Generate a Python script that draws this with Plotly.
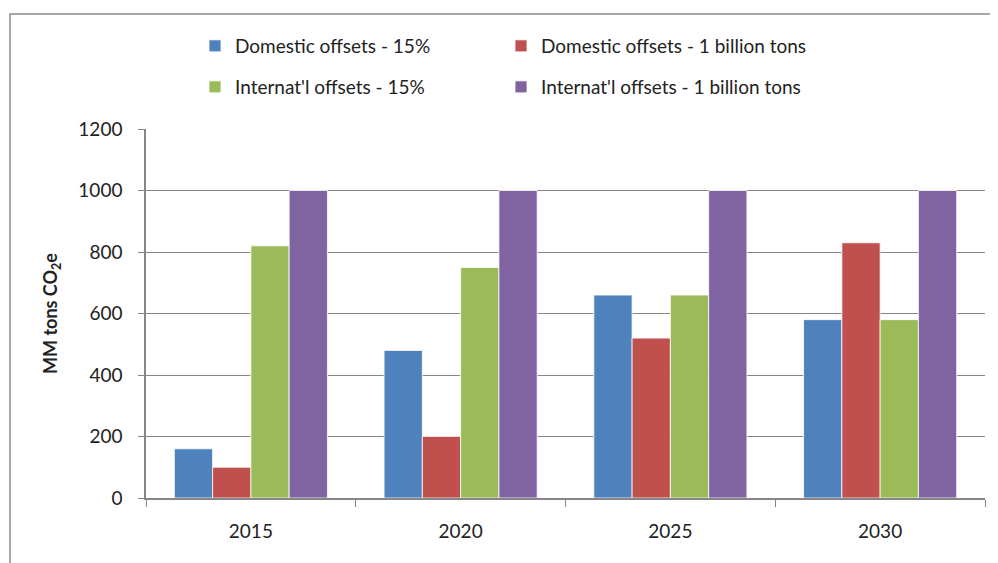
import plotly.graph_objects as go

years = ["2015", "2020", "2025", "2030"]
dom_15 = [160, 480, 660, 580]
dom_1b = [100, 200, 520, 830]
intl_15 = [820, 750, 660, 580]
intl_1b = [1000, 1000, 1000, 1000]

names = ["Domestic offsets - 15%", "Domestic offsets - 1 billion tons",
         "Internat'l offsets - 15%", "Internat'l offsets - 1 billion tons"]
colors = ["#4F81BD", "#C0504D", "#9BBB59", "#8064A2"]
series = [dom_15, dom_1b, intl_15, intl_1b]
legends = ["legend", "legend", "legend2", "legend2"]

# page is rendered with an 8px body offset; work in page coordinates minus 8
OFF = 8
W, H = 998 - OFF, 563 - OFF
L, R, T, B = 146 - OFF, 985 - OFF, 129 - OFF, 498 - OFF
pw, ph = R - L, B - T

fig = go.Figure()
for n, c, v, lg in zip(names, colors, series, legends):
    fig.add_trace(go.Bar(x=years, y=v, name=n, legend=lg,
                         marker=dict(color=c, line=dict(color="white", width=0.8))))

font = "Lato, 'Open Sans', sans-serif"
leg_common = dict(orientation="h", xanchor="left", yanchor="middle",
                  entrywidth=261, entrywidthmode="pixels",
                  font=dict(family=font, size=19, color="#222"),
                  bgcolor="rgba(0,0,0,0)", itemclick=False)

fig.update_layout(
    width=W, height=H,
    margin=dict(l=L, r=W - R, t=T, b=H - B),
    paper_bgcolor="white", plot_bgcolor="white",
    barmode="group", bargap=0.27, bargroupgap=0,
    font=dict(family=font, size=19, color="#222"),
    legend=dict(x=(195 - OFF - L) / pw, y=(B - (46 - OFF)) / ph, **leg_common),
    legend2=dict(x=(195 - OFF - L) / pw, y=(B - (87 - OFF)) / ph, **leg_common),
    xaxis=dict(showgrid=False, showline=True, linecolor="#868686", linewidth=1.5,
               ticks="outside", tickson="boundaries", ticklen=7, tickcolor="#868686",
               tickfont=dict(size=19), ticklabelstandoff=15),
    yaxis=dict(range=[0, 1200], dtick=200, showgrid=True, gridcolor="#868686",
               gridwidth=1.2, showline=True, linecolor="#868686", linewidth=1.5,
               ticks="outside", ticklen=6, tickcolor="#868686",
               tickfont=dict(size=19), zeroline=False, ticklabelstandoff=12,
               title=dict(text="<b>MM tons CO<sub>2</sub>e</b>", standoff=16,
                          font=dict(size=18))),
    shapes=[dict(type="rect", xref="paper", yref="paper",
                 x0=(10 - OFF - L) / pw, x1=(W + 20 - L) / pw,
                 y0=(B - (H + 20)) / ph, y1=(B - (14 - OFF)) / ph,
                 line=dict(color="#8c8c8c", width=1.5), fillcolor="rgba(0,0,0,0)",
                 layer="below")],
)

fig.write_html("out.html")
